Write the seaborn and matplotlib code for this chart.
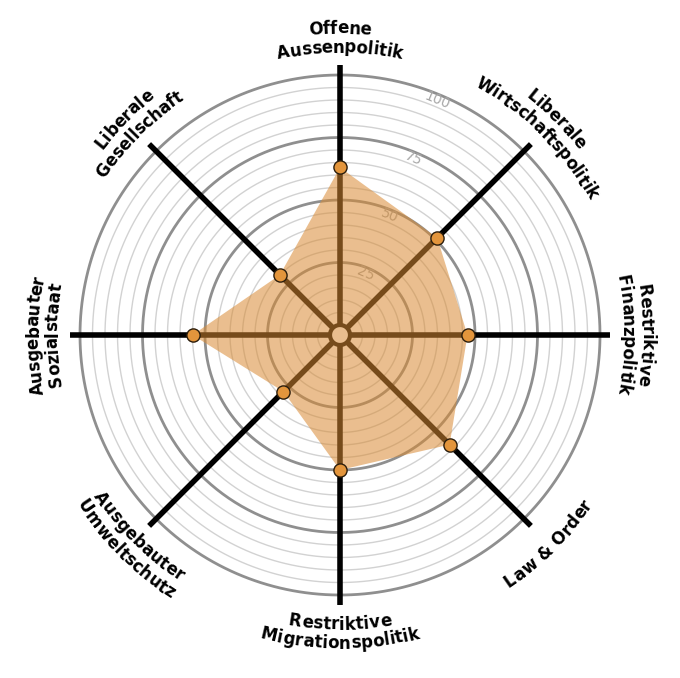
import numpy as np
import pandas as pd
import matplotlib
matplotlib.use("Agg")
import matplotlib.pyplot as plt
from matplotlib.font_manager import FontProperties
import seaborn as sns

sns.set_style("white")
plt.rcParams["font.family"] = ["DejaVu Sans"]

# %%
# Data (smartspider values, clockwise from top)

axes_labels = [
    "Offene\nAussenpolitik",
    "Liberale\nWirtschaftspolitik",
    "Restriktive\nFinanzpolitik",
    "Law & Order",
    "Restriktive\nMigrationspolitik",
    "Ausgebauter\nUmweltschutz",
    "Ausgebauter\nSozialstaat",
    "Liberale\nGesellschaft",
]
scores = [63, 51, 47, 58, 50, 28, 55, 30]
ring_ticks = [25, 50, 75, 100]

# %%
# Figure / polar axes

n = len(axes_labels)
theta = np.arange(n) * 2 * np.pi / n
df = pd.DataFrame({"theta": theta, "score": scores, "label": axes_labels})

fig = plt.figure(figsize=(6.8, 6.78), dpi=100)
ax = fig.add_axes([70 / 680, 73 / 678, 540 / 680, 540 / 678], projection="polar")
ax.set_theta_zero_location("N")
ax.set_theta_direction(-1)
ax.set_ylim(-4, 104)
ax.grid(False)
ax.set_xticks([])
ax.set_yticks([])
ax.spines["polar"].set_visible(False)

circ = np.linspace(0, 2 * np.pi, 500)

# thin rings every 5, thick every 25
for r in range(5, 101, 5):
    if r % 25 == 0:
        ax.plot(circ, np.full_like(circ, r), color="#8f8f8f", lw=2.0, zorder=1)
    else:
        ax.plot(circ, np.full_like(circ, r), color="#d2d2d2", lw=1.0, zorder=1)

# spokes
for t in theta:
    ax.plot([t, t], [0, 104], color="black", lw=4, solid_capstyle="round", zorder=2)

# centre hole
ax.fill_between(circ, -4, 0, color="white", zorder=2.5)
ax.plot(circ, np.zeros_like(circ), color="black", lw=3, zorder=2.6)

# ring values
for v in ring_ticks:
    ax.text(np.deg2rad(22.5), v - 2.5, str(v), color="#a8a8a8", fontsize=10,
            rotation=-22.5, ha="center", va="center", zorder=3)

# filled profile
closed_t = np.append(df["theta"].values, df["theta"].values[0])
closed_r = np.append(df["score"].values, df["score"].values[0])
ax.fill(closed_t, closed_r, color="#d98a33", alpha=0.55, lw=0, zorder=4)

sns.scatterplot(data=df, x="theta", y="score", ax=ax, s=90, color="#e3953c",
                edgecolor="#2b1d0c", linewidth=1.0, zorder=5, legend=False)
ax.set_xlabel("")
ax.set_ylabel("")

# %%
# Curved axis labels (each letter placed along a circle)

renderer = fig.canvas.get_renderer()
prop = FontProperties(family="DejaVu Sans", weight="bold", size=12)
cx, cy = ax.transData.transform((0, -4))
R0 = 298          # px, middle of label block
line_h = 19       # px between lines
half_cap = 6.0    # px


def text_w(s):
    return renderer.get_text_width_height_descent(s, prop, ismath=False)[0]


def advance(ch):
    return text_w("x" + ch + "x") - text_w("xx")


def curved_label(label, phi_c):
    lines = label.split("\n")
    k = len(lines)
    clockwise = not (90 < np.rad2deg(phi_c) % 360 < 270)
    for i, line in enumerate(lines):
        if clockwise:
            r = R0 + (k - 1) / 2 * line_h - i * line_h
            rb = r - half_cap
        else:
            r = R0 - (k - 1) / 2 * line_h + i * line_h
            rb = r + half_cap
        adv = [advance(ch) for ch in line]
        total = sum(adv)
        s = 0.0
        for ch, a in zip(line, adv):
            mid = s + a / 2 - total / 2
            s += a
            if clockwise:
                phi = phi_c + mid / r
                rot = -np.rad2deg(phi)
            else:
                phi = phi_c - mid / r
                rot = 180 - np.rad2deg(phi)
            x = cx + rb * np.sin(phi)
            y = cy + rb * np.cos(phi)
            fig.text(x, y, ch, transform=None, fontproperties=prop, color="black",
                     rotation=rot, rotation_mode="anchor",
                     ha="center", va="baseline")


for t, lab in zip(theta, axes_labels):
    curved_label(lab, t)

fig.savefig("out.png", dpi=100)
